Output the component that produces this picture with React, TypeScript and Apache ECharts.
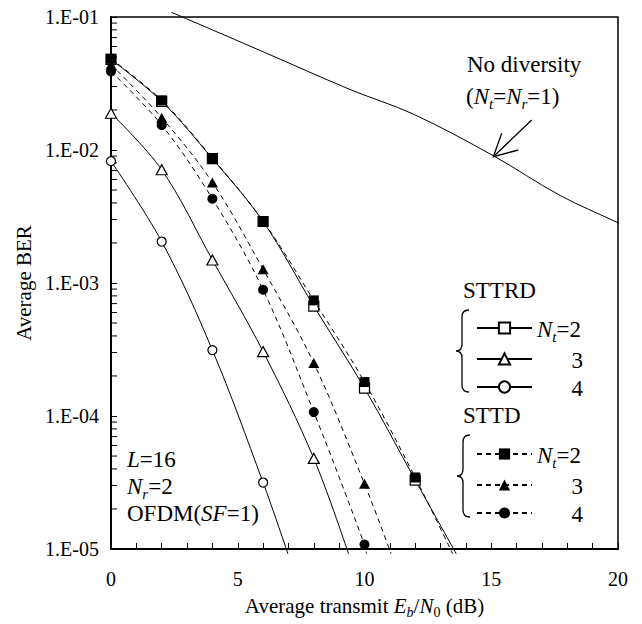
import React, { useEffect, useRef } from 'react';
import * as echarts from 'echarts';

// ---- data ----
const snrDb = [0, 2, 4, 6, 8, 10, 12];
// STTRD (open markers, solid lines)
const sttrdNt2 = [0.048, 0.0232, 0.0086, 0.0029, 0.00067, 0.000162, 3.3e-5];
const sttrdNt3 = [0.0189, 0.0071, 0.00149, 0.000305, 4.8e-5];
const sttrdNt4 = [0.00824, 0.00205, 0.000313, 3.16e-5];
// STTD (filled markers, dashed lines)
const sttdNt2 = [0.0485, 0.0236, 0.0087, 0.00292, 0.00074, 0.00018, 3.45e-5];
const sttdNt3 = [0.044, 0.0175, 0.0057, 0.00127, 0.00025, 3.09e-5];
const sttdNt4 = [0.039, 0.0154, 0.0043, 0.00089, 0.000107, 1.08e-5];
// where each curve runs out through the bottom of the frame
const tailSnr = { sttrd2: 13.62, sttrd3: 9.37, sttrd4: 6.98, sttd2: 13.48, sttd3: 11.05, sttd4: 10.08 };
const tailBer = 9.2e-6;
// no diversity curve
const noDivSnr = [2.39, 6, 9.43, 11.93, 15.08, 17.71, 20.0, 20.3];
const noDivBer = [0.1084, 0.0548, 0.0285, 0.0186, 0.00906, 0.00456, 0.00284, 0.00268];

const xTickLabels = ['0', '5', '10', '15', '20'];
const yTickLabels = ['1.E-05', '1.E-04', '1.E-03', '1.E-02', '1.E-01'];
const minorMultipliers = [2, 3, 4, 5, 6, 7, 8, 9];
const decades = [-5, -4, -3, -2];

const FONT = 'Liberation Serif';

function rich(size: number) {
  const H = size + 2;
  const base = { fontFamily: FONT, fontSize: size, color: '#000', lineHeight: size, padding: [1, 0, 1, 0], verticalAlign: 'top' };
  const sub = { fontFamily: FONT, fontSize: Math.round(size * 0.65), color: '#000', lineHeight: 12, padding: [H - 12, 0, 0, 0], verticalAlign: 'top' };
  return {
    r: base,
    i: { ...base, fontStyle: 'italic' },
    s: { ...sub, fontStyle: 'italic' },
    u: sub,
    p: { ...base, width: 46, align: 'right' },
  };
}

const legendNames: Record<string, string> = {
  'STTRD-2': '{i|N}{s|t}{r|=2}',
  'STTRD-3': '{p|3}',
  'STTRD-4': '{p|4}',
  'STTD-2': '{i|N}{s|t}{r|=2}',
  'STTD-3': '{p|3}',
  'STTD-4': '{p|4}',
};

function curve(x: number[], y: number[], tailX: number) {
  const d: any[] = y.map((v, k) => [x[k], v]);
  d.push({ value: [tailX, tailBer], symbol: 'none' });
  return d;
}

function lineSeries(name: string, data: any[], symbol: string, size: any, open: boolean, dashed: boolean) {
  return {
    type: 'line',
    name,
    data,
    smooth: 0.35,
    clip: false,
    symbol,
    symbolSize: size,
    showAllSymbol: true,
    lineStyle: { color: '#000', width: 1, type: dashed ? [5, 4] : 'solid' },
    itemStyle: open
      ? { color: '#fff', borderColor: '#000', borderWidth: 1.2 }
      : { color: '#000', borderColor: '#000', borderWidth: 0 },
    emphasis: { disabled: true },
    z: dashed ? 4 : 3,
  };
}

echarts.graphic.registerShape(
  'brace',
  echarts.graphic.extendPath('M14,0 C9,0 7,2 7,7 L7,34 C7,38 5,41 1,41 C5,41 7,44 7,48 L7,75 C7,80 9,82 14,82', {})
);

function textEl(x: number, y: number, text: string, size = 23) {
  return {
    type: 'text',
    x,
    y,
    silent: true,
    style: { text, rich: rich(size), align: 'left', verticalAlign: 'middle', fontFamily: FONT, fontSize: size, fill: '#000' },
  };
}

export default function App() {
  const ref = useRef<HTMLDivElement>(null);
  useEffect(() => {
    document.body.style.margin = '0';
    const chart = echarts.init(ref.current!, null, { renderer: 'svg' });
    const yMinor: number[][] = [];
    decades.forEach((e) => minorMultipliers.forEach((m) => yMinor.push([0, m * Math.pow(10, e)])));

    const legendBase = {
      orient: 'vertical',
      left: 471,
      itemWidth: 55,
      itemHeight: 14,
      itemGap: 3,
      selectedMode: false,
      formatter: (n: string) => legendNames[n],
      textStyle: { fontFamily: FONT, fontSize: 23, color: '#000', rich: rich(23) },
    };

    chart.setOption({
      animation: false,
      backgroundColor: '#fff',
      textStyle: { fontFamily: FONT },
      grid: { left: 111, top: 17, width: 507, height: 536, show: true, borderColor: '#000', borderWidth: 1.5 },
      xAxis: {
        type: 'value',
        min: 0,
        max: 20,
        interval: 1,
        axisLine: { lineStyle: { color: '#000', width: 2 } },
        axisTick: { inside: true, length: 6, lineStyle: { color: '#000', width: 1 } },
        splitLine: { show: false },
        axisLabel: {
          margin: 20,
          fontFamily: FONT,
          fontSize: 20,
          color: '#000',
          formatter: (v: number) => (v % 5 === 0 ? xTickLabels[v / 5] : ''),
        },
        name: '{r|Average transmit }{i|E}{s|b}{r|/}{i|N}{u|0}{r| (dB)}',
        nameLocation: 'middle',
        nameGap: 45,
        nameTextStyle: { fontFamily: FONT, fontSize: 21, color: '#000', rich: rich(21) },
      },
      yAxis: {
        type: 'log',
        logBase: 10,
        min: 1e-5,
        max: 1e-1,
        axisLine: { show: true, lineStyle: { color: '#000', width: 2 } },
        axisTick: { show: true, inside: true, length: 6, lineStyle: { color: '#000', width: 1 } },
        splitLine: { show: false },
        minorTick: { show: false },
        axisLabel: {
          margin: 12,
          fontFamily: FONT,
          fontSize: 20,
          color: '#000',
          formatter: (v: number) => yTickLabels[Math.round(Math.log10(v)) + 5],
        },
        name: 'Average BER',
        nameLocation: 'middle',
        nameRotate: 90,
        nameGap: 72,
        nameTextStyle: { fontFamily: FONT, fontSize: 21, color: '#000' },
      },
      legend: [
        { ...legendBase, top: 311.5, data: ['STTRD-2', 'STTRD-3', 'STTRD-4'] },
        { ...legendBase, top: 437.5, data: ['STTD-2', 'STTD-3', 'STTD-4'] },
      ],
      series: [
        {
          type: 'line',
          name: 'No diversity',
          data: noDivSnr.map((x, k) => [x, noDivBer[k]]),
          smooth: 0.35,
          clip: false,
          symbol: 'none',
          lineStyle: { color: '#000', width: 1 },
          emphasis: { disabled: true },
        },
        lineSeries('STTRD-2', curve(snrDb, sttrdNt2, tailSnr.sttrd2), 'rect', 10, true, false),
        lineSeries('STTRD-3', curve(snrDb, sttrdNt3, tailSnr.sttrd3), 'triangle', [11, 10], true, false),
        lineSeries('STTRD-4', curve(snrDb, sttrdNt4, tailSnr.sttrd4), 'circle', 9, true, false),
        lineSeries('STTD-2', curve(snrDb, sttdNt2, tailSnr.sttd2), 'rect', 10, false, true),
        lineSeries('STTD-3', curve(snrDb, sttdNt3, tailSnr.sttd3), 'triangle', [11, 10], false, true),
        lineSeries('STTD-4', curve(snrDb, sttdNt4, tailSnr.sttd4), 'circle', 10, false, true),
        {
          type: 'custom',
          name: 'minor ticks',
          silent: true,
          data: yMinor,
          clip: false,
          renderItem: (_p: any, api: any) => {
            const pt = api.coord([0, api.value(1)]);
            return {
              type: 'line',
              shape: { x1: pt[0], y1: pt[1], x2: pt[0] + 6, y2: pt[1] },
              style: { stroke: '#000', lineWidth: 1 },
            };
          },
          z: 1,
        },
      ],
      graphic: [
        textEl(467, 63, '{r|No diversity}'),
        textEl(466, 95, '{r|(}{i|N}{s|t}{r|=}{i|N}{s|r}{r|=1)}'),
        {
          type: 'polyline',
          silent: true,
          shape: { points: [[531.7, 120], [493.3, 156.7]] },
          style: { stroke: '#000', lineWidth: 1.3, fill: 'none' },
        },
        {
          type: 'polyline',
          silent: true,
          shape: { points: [[501.7, 133.3], [493.3, 156.7], [518.3, 150]] },
          style: { stroke: '#000', lineWidth: 1.3, fill: 'none' },
        },
        textEl(463, 289, '{r|STTRD}'),
        textEl(463, 414, '{r|STTD}'),
        { type: 'brace', x: 455, y: 310, silent: true, style: { stroke: '#000', lineWidth: 1.3, fill: 'none' } },
        { type: 'brace', x: 456, y: 435, silent: true, style: { stroke: '#000', lineWidth: 1.3, fill: 'none' } },
        textEl(127, 458, '{i|L}{r|=16}'),
        textEl(127, 485, '{i|N}{s|r}{r|=2}'),
        textEl(127, 512, '{r|OFDM(}{i|SF}{r|=1)}'),
      ],
    });
    return () => chart.dispose();
  }, []);
  return <div ref={ref} style={{ width: 642, height: 624, background: '#fff' }} />;
}
